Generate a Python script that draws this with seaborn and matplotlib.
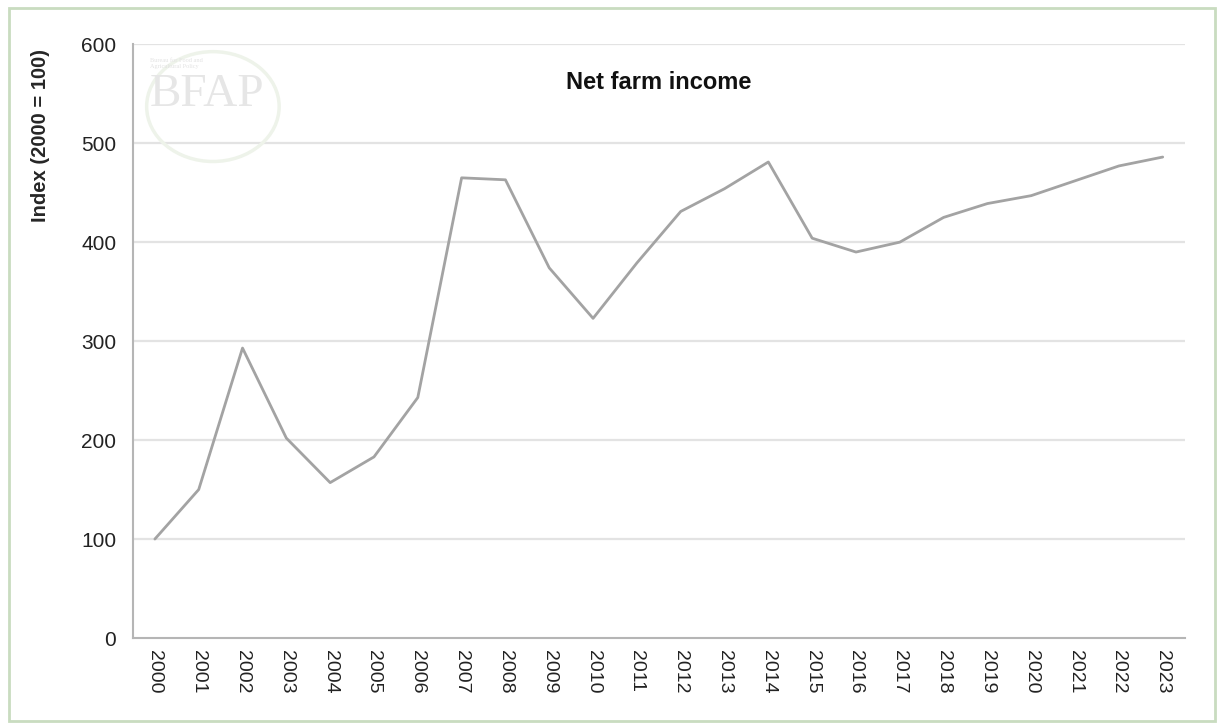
import matplotlib
matplotlib.use("Agg")
import matplotlib.pyplot as plt
import seaborn as sns
import pandas as pd
from matplotlib.patches import Rectangle, Ellipse

# Datos
years = [str(y) for y in range(2000, 2024)]
income_index = [100, 150, 293, 202, 157, 183, 243, 465, 463, 374, 323, 379,
                431, 454, 481, 404, 390, 400, 425, 439, 447, 462, 477, 486]

df = pd.DataFrame({"year": years, "index": income_index})

sns.set_style("white")
plt.rcParams['font.family'] = ['Liberation Sans', 'DejaVu Sans']

fig = plt.figure(figsize=(12.2, 7.25), dpi=100)
ax = fig.add_axes([0.109, 0.12, 0.862, 0.819])

# marco exterior verde claro
fig.patches.append(Rectangle((0.007, 0.005), 0.989, 0.984, transform=fig.transFigure,
                             fill=False, edgecolor='#c9dcc0', linewidth=2))

for v in range(100, 700, 100):
    ax.axhline(v, color='#e3e3e3', linewidth=1.6, zorder=0)

sns.lineplot(data=df, x="year", y="index", ax=ax, color='#a3a3a3', linewidth=2.0, sort=False)

ax.set_xlim(-0.5, len(years) - 0.5)
ax.set_ylim(0, 600)
ax.set_yticks(range(0, 700, 100))
ax.set_xlabel('')
ax.set_ylabel('Index (2000 = 100)', fontsize=14.5, fontweight='bold')
ax.yaxis.set_label_coords(-0.079, 0.847)
ax.tick_params(axis='y', labelsize=15, length=0, pad=12, labelcolor='#222222')
ax.tick_params(axis='x', labelsize=14, length=0, pad=9, rotation=270, labelcolor='#222222')

for s in ['top', 'right']:
    ax.spines[s].set_visible(False)
for s in ['left', 'bottom']:
    ax.spines[s].set_color('#b5b5b5')
    ax.spines[s].set_linewidth(1.5)

ax.text(0.5, 0.935, 'Net farm income', transform=ax.transAxes, ha='center', va='center',
        fontsize=17, fontweight='bold', color='#111111')

# marca de agua BFAP
ax.add_patch(Ellipse((0.076, 0.895), 0.126, 0.185, transform=ax.transAxes, fill=False,
                     edgecolor='#eef3ea', linewidth=2.5, zorder=0))
ax.text(0.016, 0.915, 'BFAP', transform=ax.transAxes, fontsize=34, family='Liberation Serif',
        color='#e6e6e6', ha='left', va='center', zorder=0)
ax.text(0.016, 0.968, 'Bureau for Food and\nAgricultural Policy', transform=ax.transAxes,
        fontsize=4.5, family='Liberation Serif', color='#e2e2e2', ha='left', va='center', zorder=0)

fig.savefig('out.png', dpi=100)
